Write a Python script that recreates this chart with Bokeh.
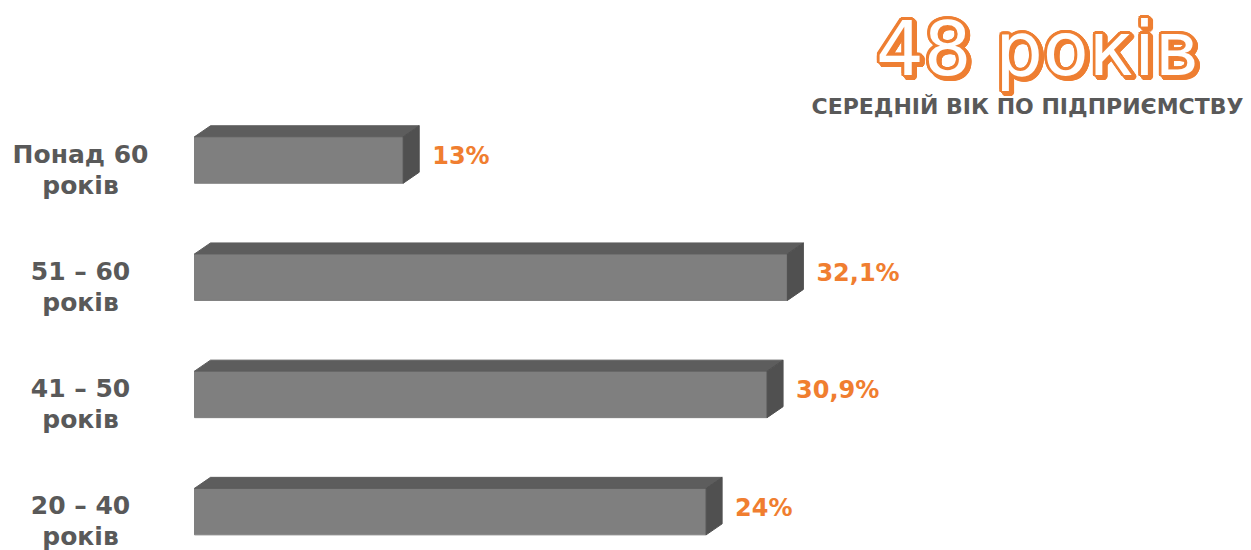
from bokeh.plotting import figure
from bokeh.models import Range1d, ColumnDataSource
from bokeh.core.properties import value
from bokeh.embed import file_html
from bokeh.resources import INLINE
import math

# ---- data (top to bottom) ----
categories_line1 = ["Понад 60", "51 – 60", "41 – 50", "20 – 40"]
categories_line2 = ["років", "років", "років", "років"]
value_labels = ["13%", "32,1%", "30,9%", "24%"]
# bar lengths as drawn in the picture (percent units)
bar_lengths = [11.3, 32.1, 31.0, 27.7]
title_text = "48 років"
subtitle_text = "СЕРЕДНІЙ ВІК ПО ПІДПРИЄМСТВУ"

W, H = 1251, 550
KX = 18.47          # px per percent
KY = 117.2          # px per category slot
X0_PAGE = 194       # picture x of value 0
X_START = -X0_PAGE / KX


def px_x(page_x):
    return X_START + page_x / KX


def px_y(page_y):
    return page_y / KY


p = figure(width=W, height=H, output_backend="svg", toolbar_location=None,
           x_range=Range1d(X_START, X_START + W / KX),
           y_range=Range1d(H / KY, 0),
           min_border=0, outline_line_color=None)
p.axis.visible = False
p.grid.visible = False
p.background_fill_color = "white"

font = value("DejaVu Sans")
n = len(bar_lengths)
yc = [px_y(159.5 + KY * i) for i in range(n)]
h = 46.5 / KY
dx = 16 / KX
dy = 11 / KY

# front faces
p.hbar(y=yc, left=0, right=bar_lengths, height=h,
       fill_color="#7f7f7f", line_color="#7f7f7f")

# top and side faces
top_xs, top_ys, side_xs, side_ys = [], [], [], []
for L, y in zip(bar_lengths, yc):
    yt, yb = y - h / 2, y + h / 2
    top_xs.append([0, L, L + dx, dx])
    top_ys.append([yt, yt, yt - dy, yt - dy])
    side_xs.append([L, L + dx, L + dx, L])
    side_ys.append([yt, yt - dy, yb - dy, yb])
p.patches(top_xs, top_ys, fill_color="#5d5d5d", line_color="#5d5d5d")
p.patches(side_xs, side_ys, fill_color="#505050", line_color="#505050")

# category labels
lab_x = [px_x(80)] * n
p.text(x=lab_x, y=[y - 6 / KY for y in yc], text=categories_line1,
       text_align="center", text_baseline="middle", text_font=font,
       text_font_style="bold", text_font_size="25px", text_color="#595959")
p.text(x=lab_x, y=[y + 25 / KY for y in yc], text=categories_line2,
       text_align="center", text_baseline="middle", text_font=font,
       text_font_style="bold", text_font_size="25px", text_color="#595959")

# value labels
p.text(x=[L + dx + 13 / KX for L in bar_lengths], y=[y - 4 / KY for y in yc],
       text=value_labels, text_align="left", text_baseline="middle",
       text_font=font, text_font_style="bold", text_font_size="24px",
       text_color="#f07e30")

# big outlined title
tx, ty = px_x(1037), px_y(48)
offs = []
for k in range(16):
    a = 2 * math.pi * k / 16
    offs.append((2.5 + 2.8 * math.cos(a), 2.5 + 2.8 * math.sin(a)))
for k in range(16):
    a = 2 * math.pi * k / 16
    offs.append((2.8 * math.cos(a), 2.8 * math.sin(a)))
src = ColumnDataSource(dict(x=[tx] * len(offs), y=[ty] * len(offs),
                            t=[title_text] * len(offs),
                            xo=[o[0] for o in offs], yo=[o[1] for o in offs]))
p.text(x="x", y="y", text="t", x_offset="xo", y_offset="yo", source=src,
       text_align="center", text_baseline="middle", text_font=font,
       text_font_style="normal", text_font_size="75px", text_color="#ee7f33")
p.text(x=[tx], y=[ty], text=[title_text], text_align="center",
       text_baseline="middle", text_font=font, text_font_style="normal",
       text_font_size="75px", text_color="white")

# subtitle
p.text(x=[px_x(1243)], y=[px_y(106)], text=[subtitle_text],
       text_align="right", text_baseline="middle", text_font=font,
       text_font_style="bold", text_font_size="22px", text_color="#595959")

open("out.html", "w").write(file_html(p, INLINE))
